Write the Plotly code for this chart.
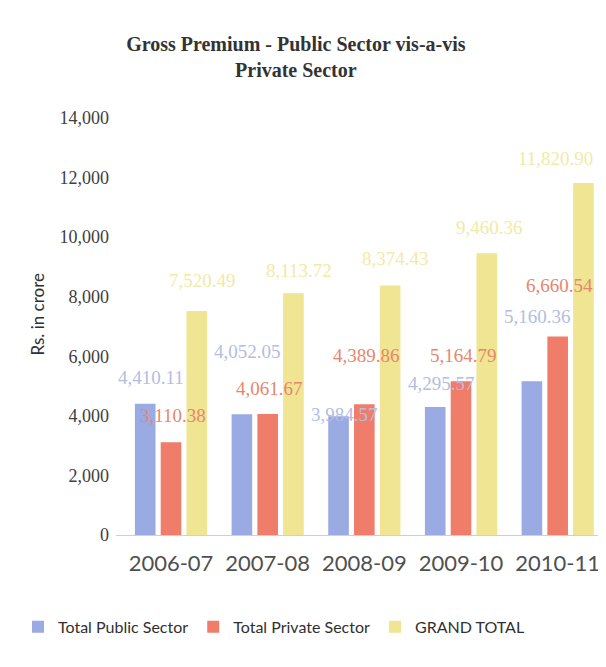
import plotly.graph_objects as go

years = ["2006-07", "2007-08", "2008-09", "2009-10", "2010-11"]
public_sector = [4410.11, 4052.05, 3984.57, 4295.57, 5160.36]
private_sector = [3110.38, 4061.67, 4389.86, 5164.79, 6660.54]
grand_total = [7520.49, 8113.72, 8374.43, 9460.36, 11820.90]
y_ticks = [0, 2000, 4000, 6000, 8000, 10000, 12000, 14000]

# label styling: vertical lift (px) and horizontal nudge (px) per label
public_label_lift = [26, 63, 2, 24, 65]
private_label_lift = [27, 26, 49, 26, 51]
total_label_lift = [31, 23, 27, 26, 24]
public_label_nudge = [-20, -20, -20, -20, -20]
private_label_nudge = [2, 2, 2, 2, 2]
total_label_nudge = [31, 31, 31, 28, -2]

series = [
    ("Total Public Sector", public_sector, "#9aaae2", "#b3bde2",
     public_label_nudge, public_label_lift),
    ("Total Private Sector", private_sector, "#ef7d6a", "#e8866c",
     private_label_nudge, private_label_lift),
    ("GRAND TOTAL", grand_total, "#efe592", "#f2eaa6",
     total_label_nudge, total_label_lift),
]

fig = go.Figure()
annotations = []
for name, vals, col, lcol, nudges, lifts in series:
    fig.add_trace(go.Bar(x=years, y=vals, name=name, marker_color=col,
                         marker_line_width=0))
    for yr, v, nx, lift in zip(years, vals, nudges, lifts):
        annotations.append(dict(
            x=yr, y=v, xref="x", yref="y", text=f"{v:,.2f}", showarrow=False,
            xshift=nx, yshift=lift, yanchor="middle",
            font=dict(family="Liberation Serif", size=19, color=lcol)))

annotations.append(dict(
    text="Rs. in crore", xref="paper", yref="paper", x=-0.16, y=0.53,
    xanchor="center", yanchor="middle", textangle=-90, showarrow=False,
    font=dict(family="Lato", size=17, color="#303030")))

fig.update_layout(
    width=606, height=667,
    margin=dict(l=108, r=8, t=110, b=140),
    paper_bgcolor="white", plot_bgcolor="white",
    barmode="group", bargap=0.2, bargroupgap=0.2,
    title=dict(text="<b>Gross Premium - Public Sector vis-a-vis<br>Private Sector</b>",
               x=0.475, xanchor="center", y=0.935, yanchor="middle",
               font=dict(family="Liberation Serif", size=20, color="#333333")),
    legend=dict(orientation="h", xref="paper", yref="paper",
                x=-0.2, xanchor="left", y=-0.22, yanchor="middle",
                font=dict(family="Lato", size=16, color="#303030"),
                itemwidth=30, tracegroupgap=0),
    annotations=annotations,
    showlegend=True,
)
fig.update_xaxes(type="category", showgrid=False, showline=True, linecolor="#cfcfcf",
                 linewidth=1, tickfont=dict(family="Lato", size=22, color="#505050"),
                 ticks="", ticklabelstandoff=9)
fig.update_yaxes(range=[0, 14000], tickvals=y_ticks, tickformat=",",
                 showgrid=False, zeroline=False, showline=False,
                 tickfont=dict(family="Liberation Serif", size=18, color="#404040"),
                 ticks="", ticklabelstandoff=6)

fig.write_html("out.html")
